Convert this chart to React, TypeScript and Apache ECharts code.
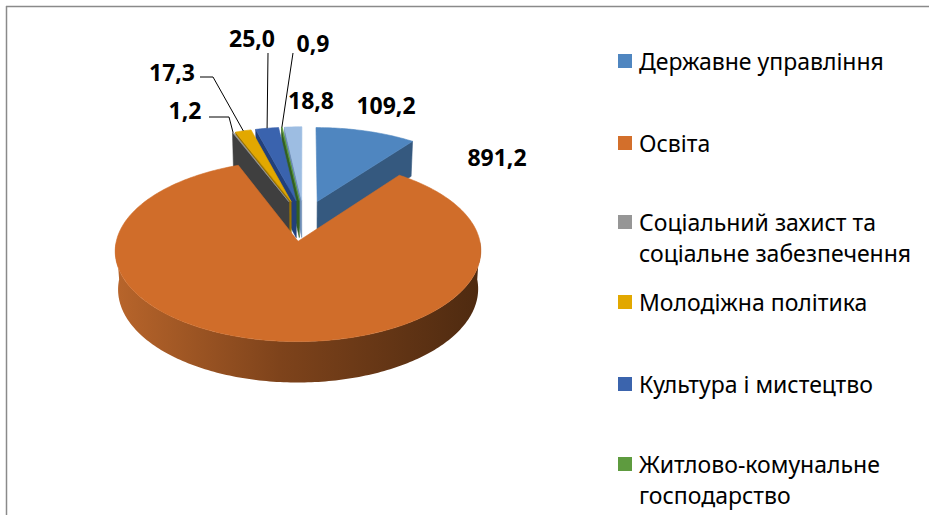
import React, { useEffect, useRef } from "react";
import * as echarts from "echarts";

// ---- data ----
const categories = [
  "Державне управління",
  "Освіта",
  "Соціальний захист та соціальне забезпечення",
  "Молодіжна політика",
  "Культура і мистецтво",
  "Житлово-комунальне господарство",
  "Інше",
];
const legendLabels = [
  "Державне управління",
  "Освіта",
  "Соціальний захист та\nсоціальне забезпечення",
  "Молодіжна політика",
  "Культура і мистецтво",
  "Житлово-комунальне\nгосподарство",
];
const values = [109.2, 891.2, 1.2, 17.3, 25.0, 0.9, 18.8];

// ---- styles ----
const topColors = ["#4F86C0", "#D06D2A", "#9A9A9A", "#E2A800", "#3A63AE", "#5A9A3A", "#9DBDE2"];
const wallColors = ["#35597F", "#8B4A1E", "#3F3F3F", "#9C7400", "#22407A", "#335F22", "#6D8DB5"];
const legendColors = ["#4F86C0", "#D36F2B", "#969696", "#E2A800", "#3B64AD", "#5E9B3F"];
const labelPos: number[][] = [
  [386, 105], [497, 157], [185, 110], [172, 72], [252, 38], [313, 43], [311, 100],
];
const leaderStart: (number[][] | null)[] = [
  null, null, [[209, 117], [229, 117]], [[200, 77], [213, 77]], [[268, 53]], [[293, 53]], null,
];
const legendY = [61, 143, 222, 302, 384, 464];

// projection params
const P = { cx: 304, cy: 258, F: 1478, L: 8.46, s: 0.503, c: 0.864, H: 0.245, e: 0.24 };
const deg = Math.PI / 180;

function proj(X: number, Y: number, Z: number): number[] {
  const den = P.L + Y * P.c - Z * P.s;
  return [P.cx + (P.F * X) / den, P.cy - (P.F * (Y * P.s + Z * P.c)) / den];
}

const total = values.reduce((s, v) => s + v, 0);
const angles: number[][] = (() => {
  let acc = 0;
  return values.map((v) => {
    const a = (acc / total) * 360;
    acc += v;
    return [a, (acc / total) * 360];
  });
})();
// back-to-front ranks
const order = values.map((_, i) => i).sort((p, q) => {
  const mp = (angles[p][0] + angles[p][1]) / 2;
  const mq = (angles[q][0] + angles[q][1]) / 2;
  return Math.cos(mq * deg) - Math.cos(mp * deg);
});
const rank: number[] = [];
order.forEach((idx, r) => (rank[idx] = r));

const fmt = (v: number) => v.toFixed(1).replace(".", ",");

function renderItem(params: any, api: any) {
  const i = params.dataIndex;
  const [a, b] = angles[i];
  const m = (a + b) / 2;
  const ox = P.e * Math.sin(m * deg);
  const oy = P.e * Math.cos(m * deg);
  const rim = (t: number, z: number) => proj(ox + Math.sin(t * deg), oy + Math.cos(t * deg), z);
  const apex = (z: number) => proj(ox, oy, z);
  const arc = (t0: number, t1: number, z: number) => {
    const n = Math.max(2, Math.ceil(Math.abs(t1 - t0)));
    const pts: number[][] = [];
    for (let k = 0; k <= n; k++) pts.push(rim(t0 + ((t1 - t0) * k) / n, z));
    return pts;
  };
  const base = rank[i] * 10;
  const children: any[] = [];
  const wallStyle = { fill: wallColors[i], stroke: wallColors[i], lineWidth: 0.6 };
  if (Math.sin(a * deg) < -1e-6) {
    children.push({
      type: "polygon",
      z2: base + 1,
      shape: { points: [apex(P.H), rim(a, P.H), rim(a, 0), apex(0)] },
      style: wallStyle,
    });
  }
  if (Math.sin(b * deg) > 1e-6) {
    children.push({
      type: "polygon",
      z2: base + 1,
      shape: { points: [apex(P.H), rim(b, P.H), rim(b, 0), apex(0)] },
      style: wallStyle,
    });
  }
  const f0 = Math.max(a, 90);
  const f1 = Math.min(b, 270);
  if (f1 > f0) {
    const pts = [...arc(f0, f1, P.H), ...arc(f1, f0, 0)];
    const fill =
      i === 1
        ? {
            type: "linear",
            x: 0, y: 0, x2: 1, y2: 0,
            colorStops: [
              { offset: 0, color: "#B8652B" },
              { offset: 0.45, color: "#7E431B" },
              { offset: 1, color: "#4E2A10" },
            ],
          }
        : wallColors[i];
    children.push({
      type: "polygon",
      z2: base + 2,
      shape: { points: pts },
      style: { fill, stroke: "none" },
    });
  }
  children.push({
    type: "polygon",
    z2: base + 3,
    shape: { points: [apex(P.H), ...arc(a, b, P.H)] },
    style: { fill: topColors[i], stroke: topColors[i], lineWidth: 0.6 },
  });
  // leader line
  const ls = leaderStart[i];
  if (ls) {
    const end = rim(m, P.H);
    children.push({
      type: "polyline",
      z2: 900,
      shape: { points: [...ls, end] },
      style: { stroke: "#000", lineWidth: 1, fill: "none" },
    });
  }
  // label
  children.push({
    type: "text",
    z2: 1000,
    x: labelPos[i][0],
    y: labelPos[i][1],
    style: {
      text: fmt(api.value(0)),
      fill: "#000",
      fontSize: 23,
      fontWeight: "bold",
      fontFamily: "Noto Sans",
      align: "center",
      verticalAlign: "middle",
      textAlign: "center",
      textVerticalAlign: "middle",
    },
  });
  return { type: "group", children };
}

export default function App() {
  const ref = useRef<HTMLDivElement>(null);
  useEffect(() => {
    if (!ref.current) return;
    const chart = echarts.init(ref.current, null, { renderer: "svg" });
    const legendGraphics: any[] = [];
    legendLabels.forEach((name, i) => {
      legendGraphics.push({
        type: "rect",
        shape: { x: 618, y: legendY[i] - 7, width: 14, height: 14 },
        style: { fill: legendColors[i] },
      });
      legendGraphics.push({
        type: "text",
        x: 639,
        y: legendY[i] - 16,
        style: {
          text: name,
          fill: "#000",
          fontSize: 23,
          fontFamily: "Noto Sans",
          lineHeight: 31,
          align: "left",
          verticalAlign: "top",
        },
      });
    });
    chart.setOption({
      animation: false,
      backgroundColor: "#fff",
      graphic: [
        { type: "line", shape: { x1: 6, y1: 6.5, x2: 929, y2: 6.5 }, style: { stroke: "#8a8a8a", lineWidth: 1.5 } },
        { type: "line", shape: { x1: 6.5, y1: 6, x2: 6.5, y2: 515 }, style: { stroke: "#8a8a8a", lineWidth: 1.5 } },
        ...legendGraphics,
      ],
      series: [
        {
          type: "custom",
          coordinateSystem: "none",
          renderItem,
          data: values.map((v, i) => ({ name: categories[i], value: v })),
          silent: true,
        },
      ],
    });
    return () => chart.dispose();
  }, []);
  return (
    <div
      ref={ref}
      style={{ position: "fixed", left: 0, top: 0, width: 929, height: 515, background: "#fff" }}
    />
  );
}
